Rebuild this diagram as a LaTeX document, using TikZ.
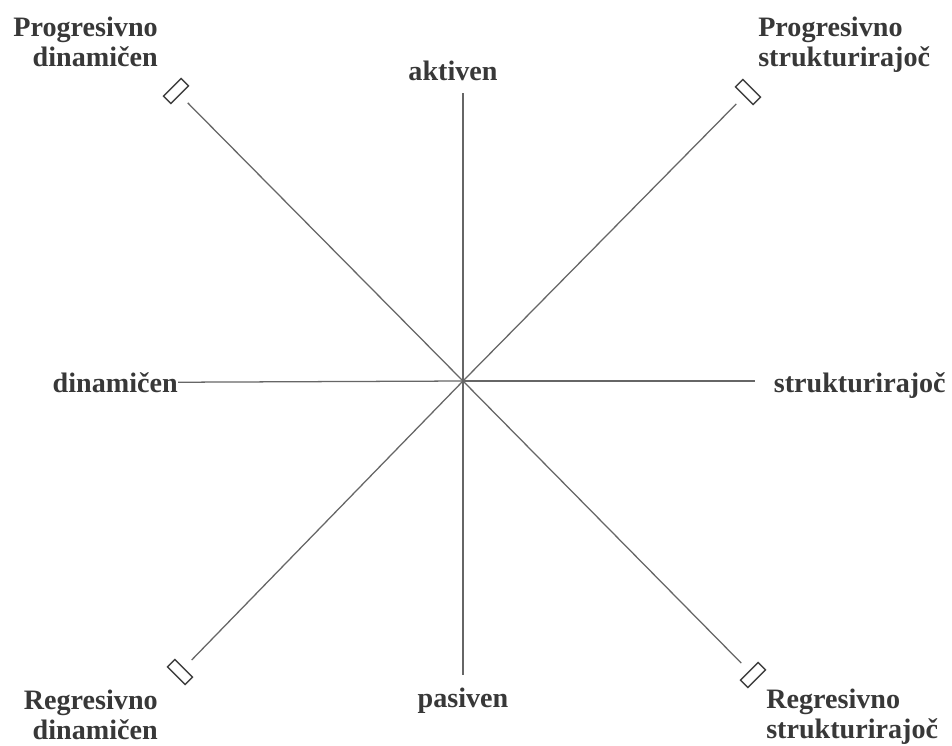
\documentclass[tikz,border=0pt]{standalone}
\usepackage{fontspec}
\setmainfont{Liberation Serif}
\begin{document}
\begin{tikzpicture}[x=0.025cm,y=-0.025cm,
  lbl/.style={font=\bfseries\fontsize{20}{21.3}\selectfont, text=black!78, inner sep=0pt},
  ax/.style={draw=black!60, line width=0.9pt},
  tab/.style={draw=black!75, line width=1pt, minimum width=0.62cm, minimum height=0.26cm, inner sep=0pt}]
\useasboundingbox[fill=white] (0,0) rectangle (952,745);
\coordinate (o) at (463,381);
\coordinate (up) at (463,93);
\coordinate (dn) at (463,675);
\coordinate (rt) at (755,381);
\node[lbl, anchor=base] (akt) at (453,80) {aktiven};
\node[lbl, anchor=base] (pas) at (463,707) {pasiven};
\node[lbl, anchor=base east] (din) at (178,392) {dinamičen};
\node[lbl, anchor=base east] (str) at (946,392) {strukturirajoč};
\node[lbl, align=right, anchor=north east] (pd) at (158,17) {Progresivno\\dinamičen};
\node[lbl, align=left, anchor=north west] (ps) at (758,17) {Progresivno\\strukturirajoč};
\node[lbl, align=right, anchor=north east] (rd) at (158,690) {Regresivno\\dinamičen};
\node[lbl, align=left, anchor=north west] (rs) at (766,689) {Regresivno\\strukturirajoč};
\node[tab, rotate=45] (t1) at (176,91) {};
\node[tab, rotate=-45] (t2) at (748,92) {};
\node[tab, rotate=-45] (t3) at (180,672) {};
\node[tab, rotate=45] (t4) at (753,675) {};
\draw[ax] (o) -- (up);
\draw[ax] (o) -- (dn);
\draw[ax] (o) -- (din.east);
\draw[ax] (o) -- (rt);
\draw[ax, shorten >=0.27cm] (o) -- (t1);
\draw[ax, shorten >=0.27cm] (o) -- (t2);
\draw[ax, shorten >=0.27cm] (o) -- (t3);
\draw[ax, shorten >=0.27cm] (o) -- (t4);
\end{tikzpicture}
\end{document}
